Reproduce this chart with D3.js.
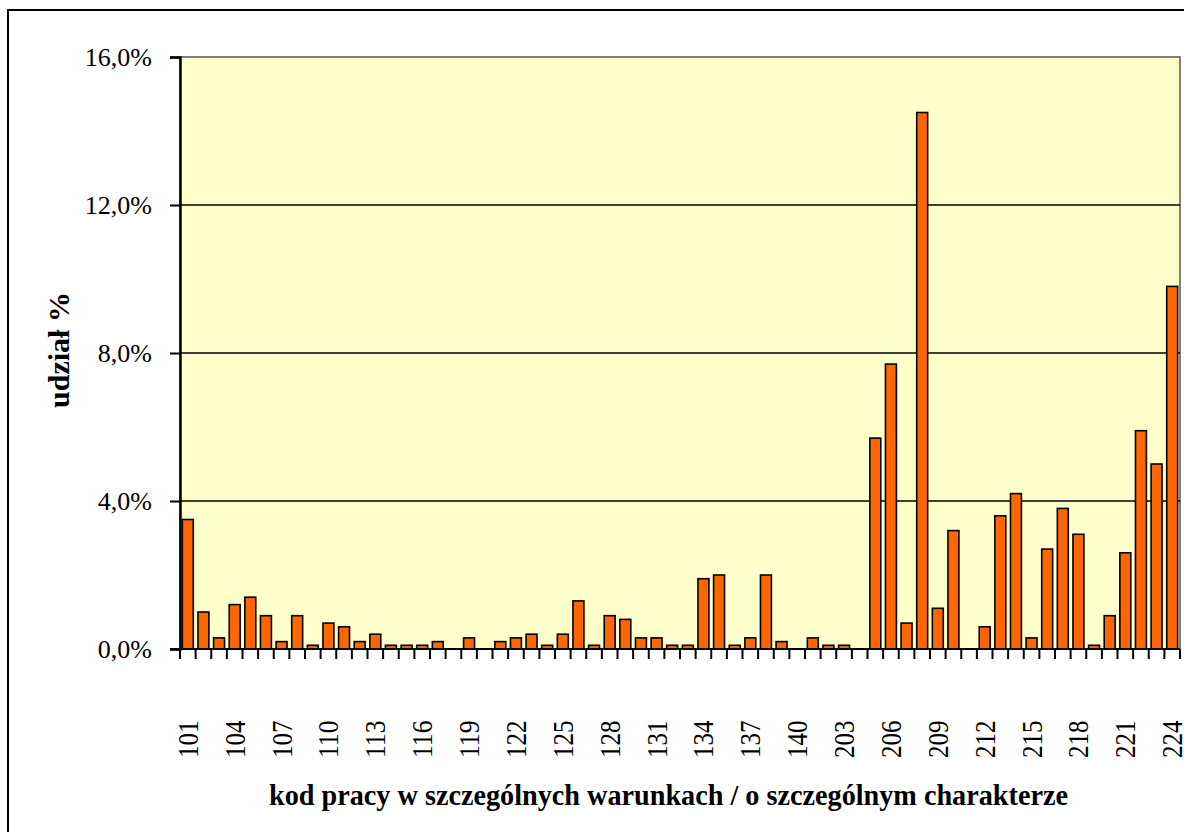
<!DOCTYPE html>
<html>
<head>
<meta charset="utf-8">
<script src="https://cdn.jsdelivr.net/npm/d3@7"></script>
<style>
  html, body { margin: 0; padding: 0; background: #ffffff; }
  svg { display: block; }
  text { font-family: "Liberation Serif", "Times New Roman", serif; fill: #000; }
</style>
</head>
<body>
<svg id="chart" width="1184" height="832"></svg>
<script>
// ---- data ----
const categories = [
  "101","102","103","104","105","106","107","108","109","110",
  "111","112","113","114","115","116","117","118","119","120",
  "121","122","123","124","125","126","127","128","129","130",
  "131","132","133","134","135","136","137","138","139","140",
  "201","202","203","204","205","206","207","208","209","210",
  "211","212","213","214","215","216","217","218","219","220",
  "221","222","223","224"
];
const shares = [
  3.5, 1.0, 0.3, 1.2, 1.4, 0.9, 0.2, 0.9, 0.1, 0.7,
  0.6, 0.2, 0.4, 0.1, 0.1, 0.1, 0.2, 0.0, 0.3, 0.0,
  0.2, 0.3, 0.4, 0.1, 0.4, 1.3, 0.1, 0.9, 0.8, 0.3,
  0.3, 0.1, 0.1, 1.9, 2.0, 0.1, 0.3, 2.0, 0.2, 0.0,
  0.3, 0.1, 0.1, 0.0, 5.7, 7.7, 0.7, 14.5, 1.1, 3.2,
  0.0, 0.6, 3.6, 4.2, 0.3, 2.7, 3.8, 3.1, 0.1, 0.9,
  2.6, 5.9, 5.0, 9.8
];
const xTickLabels = ["101","104","107","110","113","116","119","122","125","128","131",
  "134","137","140","203","206","209","212","215","218","221","224"];
const yTicks = [0, 4, 8, 12, 16];
const yTitle = "udział %";
const xTitle = "kod pracy w szczególnych warunkach / o szczególnym charakterze";

// ---- layout ----
const svg = d3.select("#chart");
const plot = { left: 180, right: 1180, top: 57, bottom: 649 };

// outer frame (right side runs off the picture)
svg.append("rect")
  .attr("x", 8).attr("y", 10).attr("width", 1200).attr("height", 840)
  .attr("fill", "#fff").attr("stroke", "#000").attr("stroke-width", 2);

const x = d3.scaleBand().domain(categories)
  .range([plot.left, plot.right]).paddingInner(0.3).paddingOuter(0.15);
const xEdge = d3.scaleBand().domain(categories)
  .range([plot.left, plot.right]).padding(0);
const y = d3.scaleLinear().domain([0, 16]).range([plot.bottom, plot.top]);

// plot background
svg.append("rect")
  .attr("x", plot.left).attr("y", plot.top)
  .attr("width", plot.right - plot.left).attr("height", plot.bottom - plot.top)
  .attr("fill", "#FFFFCC").attr("stroke", "#808080").attr("stroke-width", 2);

// gridlines
svg.append("g").selectAll("line")
  .data(yTicks.filter(d => d > 0 && d < 16))
  .join("line")
  .attr("x1", plot.left).attr("x2", plot.right)
  .attr("y1", d => y(d)).attr("y2", d => y(d))
  .attr("stroke", "#000").attr("stroke-width", 1.5);

// bars
svg.append("g").selectAll("rect")
  .data(categories.map((c, i) => ({ c, v: shares[i] })).filter(d => d.v > 0))
  .join("rect")
  .attr("x", d => x(d.c))
  .attr("y", d => y(d.v))
  .attr("width", x.bandwidth())
  .attr("height", d => y(0) - y(d.v))
  .attr("fill", "#FF6600")
  .attr("stroke", "#000").attr("stroke-width", 1.6);

// y axis
const yAxis = d3.axisLeft(y).tickValues(yTicks)
  .tickFormat(d => d.toFixed(1).replace(".", ",") + "%")
  .tickSize(10).tickPadding(18);
const gy = svg.append("g").attr("transform", `translate(${plot.left},0)`).call(yAxis);
gy.select(".domain").attr("stroke", "#000").attr("stroke-width", 2.5);
gy.selectAll(".tick line").attr("stroke", "#000").attr("stroke-width", 2);
gy.selectAll(".tick text")
  .style("font-family", '"Liberation Serif", "Times New Roman", serif')
  .style("font-size", "26px").attr("fill", "#000");

// x axis baseline and boundary ticks
svg.append("line")
  .attr("x1", plot.left - 10).attr("x2", plot.right)
  .attr("y1", plot.bottom).attr("y2", plot.bottom)
  .attr("stroke", "#000").attr("stroke-width", 2);
const edges = categories.map(c => xEdge(c)).concat([plot.right]);
svg.append("g").selectAll("line")
  .data(edges).join("line")
  .attr("x1", d => d).attr("x2", d => d)
  .attr("y1", plot.bottom).attr("y2", plot.bottom + 10)
  .attr("stroke", "#000").attr("stroke-width", 2);

// x tick labels (rotated)
svg.append("g").selectAll("text")
  .data(xTickLabels).join("text")
  .attr("transform", d => `translate(${x(d) + x.bandwidth() / 2 + 10},758) rotate(-90)`)
  .attr("text-anchor", "start")
  .attr("textLength", 37.5).attr("lengthAdjust", "spacingAndGlyphs")
  .style("font-size", "29px")
  .text(d => d);

// axis titles
svg.append("text")
  .attr("transform", "translate(69,350) rotate(-90)")
  .attr("text-anchor", "middle")
  .style("font-size", "30px").style("font-weight", "bold")
  .text(yTitle);

svg.append("text")
  .attr("x", 668.5).attr("y", 805)
  .attr("text-anchor", "middle")
  .attr("textLength", 799).attr("lengthAdjust", "spacingAndGlyphs")
  .style("font-size", "30px").style("font-weight", "bold")
  .text(xTitle);
</script>
</body>
</html>
